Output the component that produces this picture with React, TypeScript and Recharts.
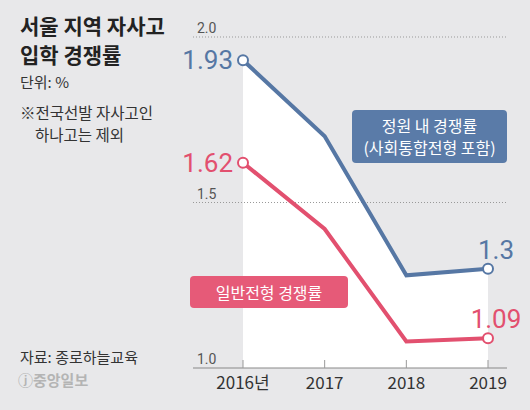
import React from 'react';
import { ComposedChart, Line, Area, XAxis, YAxis, ReferenceLine } from 'recharts';

const years = ['2016년', '2017', '2018', '2019'];
const totalRates = [1.93, 1.7, 1.28, 1.3];
const generalRates = [1.62, 1.42, 1.08, 1.09];
const gridValues = [2.0, 1.5, 1.0];

const BLUE = '#5677a4';
const PINK = '#e2506f';
const BG = '#e8e8ea';
const KR = '"Noto Sans CJK KR", "Noto Sans", sans-serif';
const NUM = 'Roboto, "Noto Sans", sans-serif';

const data = years.map((year, i) => ({ year, total: totalRates[i], general: generalRates[i] }));
const lastIdx = years.length - 1;

const YearTick = ({ x, y, payload }: any) => (
  <g>
    <line x1={x} x2={x} y1={y - 8} y2={y} stroke="#999" strokeWidth={1} />
    <text x={x} y={y + 21} textAnchor="middle" fontSize={17} fill="#333" fontFamily={KR}>
      {payload.value}
    </text>
  </g>
);

// dots only on first and last year
const makeDot = (color: string) => (props: any) => {
  const { cx, cy, index } = props;
  if (index !== 0 && index !== lastIdx) return <g key={`d-${index}`} />;
  return <circle key={`d-${index}`} cx={cx} cy={cy} r={5} fill="#fff" stroke={color} strokeWidth={2} />;
};

const makeLabel = (color: string) => (props: any) => {
  const { x, y, index, value } = props;
  if (index === 0) {
    return (
      <text x={x - 10} y={y + 9} textAnchor="end" fontSize={26} fill={color} fontFamily={NUM}>
        {value}
      </text>
    );
  }
  if (index === lastIdx) {
    return (
      <text x={x + 8} y={y - 10} textAnchor="middle" fontSize={26} fill={color} fontFamily={NUM}>
        {value}
      </text>
    );
  }
  return null;
};

const App: React.FC = () => {
  return (
    <div style={{ position: 'absolute', left: 0, top: 0, width: 530, height: 410, background: BG, fontFamily: KR, overflow: 'hidden' }}>
      <ComposedChart width={530} height={410} data={data} margin={{ top: 37, right: 23, left: 193, bottom: 0 }}>
        <XAxis
          dataKey="year"
          height={42}
          padding={{ left: 50, right: 19 }}
          axisLine={{ stroke: '#888' }}
          tickLine={false}
          tickSize={0}
          tickMargin={0}
          tick={<YearTick />}
          interval={0}
        />
        <YAxis domain={[1, 2]} hide />
        <Area
          type="linear"
          dataKey="total"
          stroke="none"
          fill="#ffffff"
          fillOpacity={1}
          isAnimationActive={false}
        />
        {gridValues.map((v) => (
          <ReferenceLine
            key={v}
            y={v}
            stroke={v === 1 ? 'none' : '#999'}
            strokeDasharray="1 2"
            label={{ value: v.toFixed(1), position: 'insideBottomLeft', offset: 4, fontSize: 14, fill: '#555', fontFamily: NUM }}
          />
        ))}
        <Line
          type="linear"
          dataKey="total"
          stroke={BLUE}
          strokeWidth={4}
          dot={makeDot(BLUE)}
          label={makeLabel(BLUE)}
          isAnimationActive={false}
        />
        <Line
          type="linear"
          dataKey="general"
          stroke={PINK}
          strokeWidth={4}
          dot={makeDot(PINK)}
          label={makeLabel(PINK)}
          isAnimationActive={false}
        />
      </ComposedChart>

      <div style={{ position: 'absolute', left: 20, top: 12, fontSize: 21, fontWeight: 700, lineHeight: '26px', color: '#222' }}>서울 지역 자사고</div>
      <div style={{ position: 'absolute', left: 20, top: 41, fontSize: 21, fontWeight: 700, lineHeight: '26px', color: '#222' }}>입학 경쟁률</div>
      <div style={{ position: 'absolute', left: 20, top: 71, fontSize: 15, color: '#333' }}>단위: %</div>
      <div style={{ position: 'absolute', left: 20, top: 101, fontSize: 15.5, lineHeight: '22px', color: '#333' }}>
        ※전국선발 자사고인<br />
        <span style={{ marginLeft: 15 }}>하나고는 제외</span>
      </div>
      <div style={{ position: 'absolute', left: 20, top: 346, fontSize: 15, color: '#333' }}>자료: 종로하늘교육</div>
      <div style={{ position: 'absolute', left: 18, top: 369, fontSize: 15, fontWeight: 700, color: '#b4b4b4' }}>ⓙ중앙일보</div>

      <div style={{ position: 'absolute', left: 352, top: 110, width: 155, height: 53, background: '#5a7ba8', borderRadius: 4, color: '#fff', fontSize: 16, lineHeight: '22px', textAlign: 'center', paddingTop: 4, boxSizing: 'border-box' }}>
        정원 내 경쟁률<br />(사회통합전형 포함)
      </div>
      <div style={{ position: 'absolute', left: 190, top: 276, width: 158, height: 32, background: '#e65a78', borderRadius: 4, color: '#fff', fontSize: 16, lineHeight: '32px', textAlign: 'center' }}>
        일반전형 경쟁률
      </div>
    </div>
  );
};

export default App;
